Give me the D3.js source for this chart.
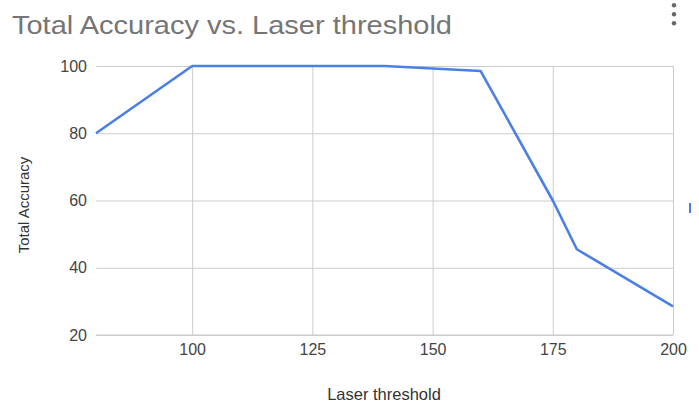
<!DOCTYPE html>
<html>
<head>
<meta charset="utf-8">
<script src="https://cdnjs.cloudflare.com/ajax/libs/d3/7.8.5/d3.min.js"></script>
<style>
  html, body { margin: 0; padding: 0; background: #fff; }
  svg { display: block; font-family: "Liberation Sans", Arial, sans-serif; }
</style>
</head>
<body>
<svg id="chart" width="699" height="402"></svg>
<script>
// Laser threshold values and the measured total accuracy at each
const thresholds = [80, 100, 120, 140, 160, 175, 180, 200];
const accuracy   = [80, 100, 100, 100, 98.5, 60, 45.5, 28.5];
const xTicks = [100, 125, 150, 175, 200];
const yTicks = [20, 40, 60, 80, 100];

const titleText = "Total Accuracy vs. Laser threshold";
const xTitle = "Laser threshold";
const yTitle = "Total Accuracy";

const svg = d3.select("#chart");
const plot = { left: 96, right: 673, top: 66, bottom: 335 };

const x = d3.scaleLinear().domain([80, 200]).range([plot.left, plot.right]);
const y = d3.scaleLinear().domain([20, 100]).range([plot.bottom, plot.top]);

// Title
svg.append("text")
  .attr("x", 12).attr("y", 34)
  .attr("font-size", 26)
  .attr("fill", "#757575")
  .attr("textLength", 440)
  .attr("lengthAdjust", "spacingAndGlyphs")
  .text(titleText);

// Overflow menu dots
svg.append("g").selectAll("circle")
  .data([5.3, 14.3, 23.3])
  .join("circle")
  .attr("cx", 674).attr("cy", d => d).attr("r", 2.2)
  .attr("fill", "#666");

// Horizontal gridlines with left labels
const yAxis = d3.axisLeft(y).tickValues(yTicks).tickSize(-(plot.right - plot.left)).tickPadding(9);
const gy = svg.append("g").attr("transform", `translate(${plot.left},0)`).call(yAxis);
gy.select(".domain").remove();
gy.selectAll(".tick line").attr("stroke", "#cccccc").attr("stroke-width", 1);
gy.selectAll(".tick text")
  .attr("font-size", 16).attr("fill", "#444")
  .attr("font-family", "Liberation Sans, Arial, sans-serif");

// Vertical gridlines with bottom labels
const xAxis = d3.axisBottom(x).tickValues(xTicks).tickSize(-(plot.bottom - plot.top)).tickPadding(9);
const gx = svg.append("g").attr("transform", `translate(0,${plot.bottom})`).call(xAxis);
gx.select(".domain").remove();
gx.selectAll(".tick line").attr("stroke", "#cccccc").attr("stroke-width", 1);
gx.selectAll(".tick text")
  .attr("font-size", 16).attr("fill", "#444")
  .attr("font-family", "Liberation Sans, Arial, sans-serif");

// Baseline at the bottom of the plot area
svg.append("line")
  .attr("x1", plot.left).attr("x2", plot.right)
  .attr("y1", y(20)).attr("y2", y(20))
  .attr("stroke", "#cccccc");

// Accuracy line
const line = d3.line()
  .x((d, i) => x(thresholds[i]))
  .y(d => y(d));
svg.append("path")
  .datum(accuracy)
  .attr("d", line)
  .attr("fill", "none")
  .attr("stroke", "#4a80e6")
  .attr("stroke-width", 2.6)
  .attr("stroke-linejoin", "round");

// Axis titles
svg.append("text")
  .attr("x", 384).attr("y", 400)
  .attr("text-anchor", "middle")
  .attr("font-size", 16.5).attr("fill", "#333")
  .text(xTitle);

svg.append("text")
  .attr("transform", "translate(29,205) rotate(-90)")
  .attr("text-anchor", "middle")
  .attr("font-size", 15).attr("fill", "#333")
  .text(yTitle);

// Legend marker clipped at the right edge
svg.append("rect")
  .attr("x", 689).attr("y", 203)
  .attr("width", 2).attr("height", 10)
  .attr("fill", "#4a80e6");
</script>
</body>
</html>
